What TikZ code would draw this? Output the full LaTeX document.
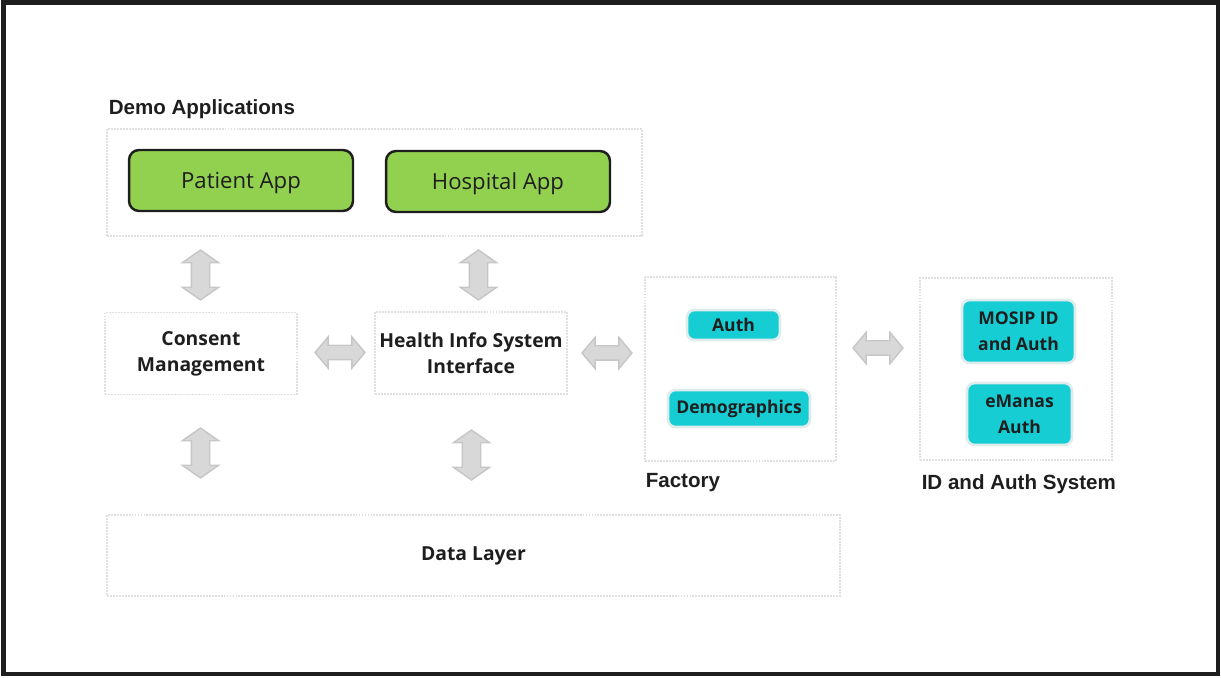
\documentclass[tikz,border=0pt]{standalone}
\usepackage{fontspec}
\setmainfont{Open Sans}
\newfontfamily\headfont{Liberation Sans}
\usetikzlibrary{shapes.arrows,positioning}

\definecolor{appgreen}{RGB}{146,208,80}
\definecolor{tealbox}{RGB}{22,205,212}
\definecolor{tealrim}{RGB}{222,236,236}
\definecolor{arrowgray}{RGB}{216,216,216}
\definecolor{arrowedge}{RGB}{198,198,198}
\definecolor{zonegray}{RGB}{224,224,224}
\definecolor{inktext}{RGB}{30,30,30}

\begin{document}
\begin{tikzpicture}[x=0.02cm,y=-0.02cm,
    zone/.style={draw=zonegray,line width=0.7pt,dash pattern=on 1.1pt off 0.6pt,inner sep=0pt,
        font=\fontsize{11}{14.8}\selectfont\bfseries,text=inktext,align=center},
    app node/.style={draw=inktext,line width=1.4pt,fill=appgreen,rounded corners=0.2cm,
        minimum width=4.48cm,minimum height=1.22cm,text depth=0pt,
        font=\fontsize{12.6}{15}\selectfont,text=inktext},
    id node/.style={draw=tealrim,line width=1.5pt,fill=tealbox,rounded corners=0.15cm,
        inner sep=0pt,font=\fontsize{10}{14.8}\selectfont\bfseries,text=inktext,align=center},
    varrow/.style={shape=double arrow,rotate=90,draw=arrowedge,fill=arrowgray,line width=0.8pt,
        minimum height=1cm,inner xsep=0pt,inner ysep=0.17cm,
        double arrow head extend=0.18cm,double arrow tip angle=110},
    harrow/.style={shape=double arrow,draw=arrowedge,fill=arrowgray,line width=0.8pt,
        minimum height=1cm,inner xsep=0pt,inner ysep=0.13cm,
        double arrow head extend=0.17cm,double arrow tip angle=100},
    group label/.style={font=\headfont\fontsize{11.7}{14}\selectfont\bfseries,text=inktext,inner sep=0pt}]

  \useasboundingbox (0,0) rectangle (1221,678);
  \draw[line width=2.55pt,inktext] (3.7,2.5) rectangle (1218,674);

  % demo applications
  \node[zone,minimum width=10.7cm,minimum height=2.14cm] (demo) at (374.5,182.5) {};
  \node[app node] (patient)  at (241,180.5) {Patient App};
  \node[app node] (hospital) at (498,181.5) {Hospital App};
  \node[group label,above right=0.18cm and 0.04cm of demo.north west] (demolabel) {Demo Applications};

  % middle row
  \node[zone,minimum width=3.84cm,minimum height=1.64cm] (consent) at (201,353.5) {Consent\\Management};
  \node[zone,minimum width=3.84cm,minimum height=1.64cm] (his) at (471,353) {Health Info System\\Interface};

  % factory
  \node[zone,minimum width=3.82cm,minimum height=3.68cm] (factory) at (740.5,369) {};
  \node[id node,minimum width=1.86cm,minimum height=0.6cm]  (auth) at (733.5,325) {Auth};
  \node[id node,minimum width=2.84cm,minimum height=0.74cm] (demog) at (739,408.5) {Demographics};
  \node[group label,below right=0.22cm and 0.02cm of factory.south west] (factorylabel) {Factory};

  % id and auth system
  \node[zone,minimum width=3.84cm,minimum height=3.64cm] (idsys) at (1016,369) {};
  \node[id node,minimum width=2.26cm,minimum height=1.26cm] (mosip) at (1018.5,331.5) {MOSIP ID\\and Auth};
  \node[id node,minimum width=2.1cm,minimum height=1.24cm]  (emanas) at (1019.5,414) {eManas\\Auth};
  \node[group label,below right=0.28cm and 0.04cm of idsys.south west] (idlabel) {ID and Auth System};

  % data layer
  \node[zone,minimum width=14.66cm,minimum height=1.62cm] (data) at (473.5,555.5) {Data Layer};

  % block arrows
  \node[varrow] (a1) at (200.5,275) {};
  \node[varrow] (a2) at (478.5,275) {};
  \node[varrow] (a3) at (200.5,453) {};
  \node[varrow] (a4) at (471.5,455) {};
  \node[harrow] (h1) at (340,352.5) {};
  \node[harrow] (h2) at (607,353) {};
  \node[harrow] (h3) at (878,348) {};

\end{tikzpicture}
\end{document}
